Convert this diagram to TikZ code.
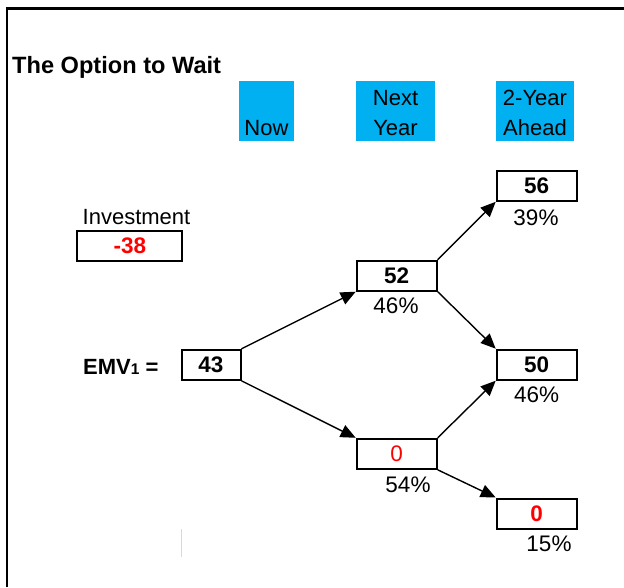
\documentclass[tikz,border=0pt]{standalone}
\usepackage{fontspec}
\setmainfont{Liberation Sans}
\usetikzlibrary{arrows.meta}
\definecolor{hdrcyan}{HTML}{00B0F0}
\definecolor{valred}{HTML}{FF0000}
\begin{document}
\begin{tikzpicture}[x=1pt,y=-1pt,
  lbl/.style={anchor=base,inner sep=0pt,font=\fontsize{22}{22}\selectfont},
  pct/.style={anchor=base,inner sep=0pt,font=\fontsize{22.5}{22.5}\selectfont},
  hdr/.style={fill=hdrcyan,draw=none,inner sep=0pt},
  valbox/.style={draw=black,line width=2pt,inner sep=0pt,minimum width=80pt,minimum height=30pt,font=\fontsize{22.5}{22.5}\selectfont\bfseries},
  conn/.style={line width=1.4pt,-{Triangle[length=15pt,width=13pt]}}]
\useasboundingbox (0,0) rectangle (624,587);
% frame
\draw[line width=2.8pt] (7,587) -- (7,8.5) -- (624,8.5);
% title
\node[lbl,anchor=base west,font=\fontsize{23.6}{23.6}\selectfont\bfseries] (title) at (12,73) {The Option to Wait};
% headers
\node[hdr,minimum width=55pt,minimum height=60pt] (hnow) at (266.5,111) {};
\node[hdr,minimum width=78.5pt,minimum height=60pt] (hnext) at (395.5,111) {};
\node[hdr,minimum width=78pt,minimum height=60pt] (htwo) at (535,111) {};
\node[lbl] (tnow) at (266.5,135) {Now};
\node[lbl] (tnext1) at (395.5,105.7) {Next};
\node[lbl] (tnext2) at (395.5,135) {Year};
\node[lbl] (ttwo1) at (535,105.7) {2-Year};
\node[lbl] (ttwo2) at (535,135) {Ahead};
% investment
\node[lbl] (tinv) at (136.5,224) {Investment};
\node[valbox,minimum width=105pt,text=valred] (inv) at (129.8,246) {-38};
% EMV
\node[lbl,anchor=base west,font=\fontsize{22}{22}\selectfont\bfseries] (emv) at (83,374) {EMV{\fontsize{15.5}{15.5}\selectfont 1} =};
% value boxes
\node[valbox,minimum width=59pt] (n43) at (211,364.8) {43};
\node[valbox] (n52) at (396.7,275.7) {52};
\node[valbox,font=\fontsize{22.5}{22.5}\selectfont,text=valred] (n0a) at (396.7,453.8) {0};
\node[valbox] (n56) at (536.7,185.8) {56};
\node[valbox] (n50) at (536.7,364.7) {50};
\node[valbox,text=valred] (n0b) at (536.7,513.5) {0};
% probabilities
\node[pct] (p52) at (396,313) {46\%};
\node[pct] (p0a) at (408,492.7) {54\%};
\node[pct] (p56) at (536,225) {39\%};
\node[pct] (p50) at (536.7,402.7) {46\%};
\node[pct] (p0b) at (549,551.7) {15\%};
% connectors
\draw[conn] (n43.north east) -- (n52.south west);
\draw[conn] (n43.south east) -- (n0a.north west);
\draw[conn] (n52.north east) -- (n56.south west);
\draw[conn] (n52.south east) -- (n50.north west);
\draw[conn] (n0a.north east) -- (n50.south west);
\draw[conn] (n0a.south east) -- (n0b.north west);
% faint gray mark
\draw[line width=1.5pt,color=black!15] (181.7,529) -- (181.7,557);
\end{tikzpicture}
\end{document}
